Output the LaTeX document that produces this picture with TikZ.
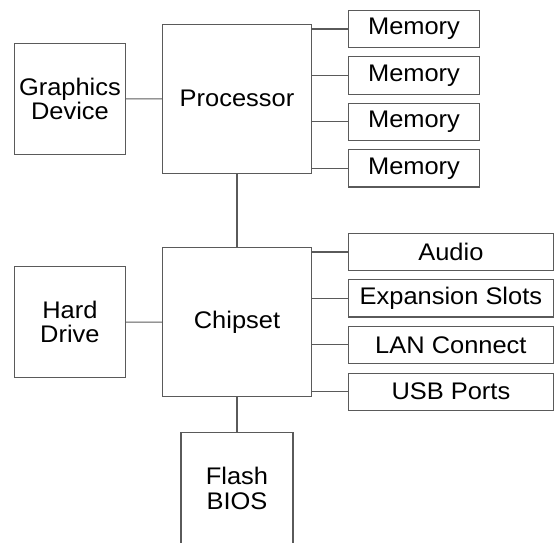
\documentclass[tikz,border=0pt]{standalone}
\usepackage{fontspec}
\setmainfont{Liberation Sans}[FakeStretch=1.06]
\usepackage{tikz}
\definecolor{boxline}{RGB}{90, 90, 90}

\begin{document}
\begin{tikzpicture}[x = 1pt, y = -1pt,
	blk/.style = {draw = boxline, line width = 1.1pt, inner sep = 0pt, outer sep = 0pt, align = center,
		font = \fontsize{24}{24.5}\selectfont},
	big/.style = {blk, minimum width = 148.6pt, minimum height = 148.8pt},
	side/.style = {blk, minimum width = 111.7pt, minimum height = 111pt},
	mem/.style = {blk, minimum width = 130.6pt, minimum height = 37.3pt},
	io/.style = {blk, minimum width = 204.3pt, minimum height = 37.3pt},
	wire/.style = {draw = boxline, line width = 1.1pt}]
			\useasboundingbox (0,0) rectangle (554,542);
			\node (p) at (237,98.7) [big] {Processor};
			\node (g) at (69.9,99) [side] {Graphics\\Device};
			\node (m1) at (414,29) [mem] {Memory};
			\node (m2) at (414,75.5) [mem] {Memory};
			\node (m3) at (414,121.9) [mem] {Memory};
			\node (m4) at (414,168.3) [mem] {Memory};
			\node (c) at (237,322.2) [big] {Chipset};
			\node (h) at (69.9,322) [side] {Hard\\Drive};
			\node (a) at (450.9,252) [io] {Audio};
			\node (e) at (450.9,298.3) [io] {Expansion Slots};
			\node (l) at (450.9,344.8) [io] {LAN Connect};
			\node (u) at (450.9,391.7) [io] {USB Ports};
			\node (f) at (237,488.2) [side, minimum width = 112pt] {Flash\\BIOS};
			\draw[wire] (g) -- (p);
			\draw[wire] (p) -- (c);
			\draw[wire] (h) -- (c);
			\draw[wire] (c) -- (f);
			\foreach \n in {m1, m2, m3, m4}
				\draw[wire] (\n -| p.east) -- (\n.west);
			\foreach \n in {a, e, l, u}
				\draw[wire] (\n -| c.east) -- (\n.west);
\end{tikzpicture}
\end{document}
